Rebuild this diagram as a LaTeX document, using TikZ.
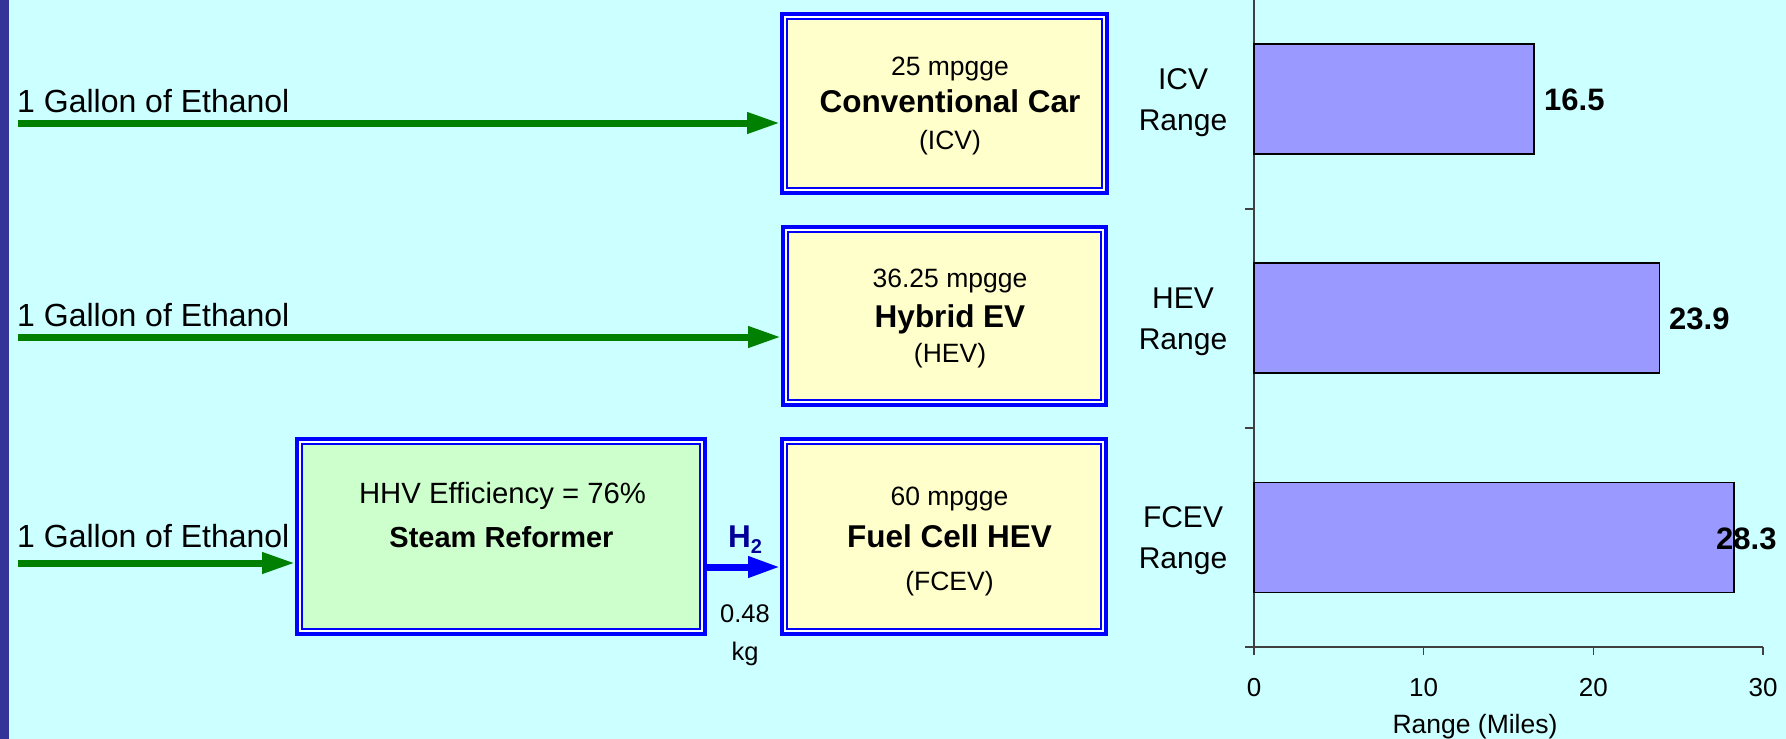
\documentclass[tikz,border=0pt]{standalone}
\usepackage{fontspec}
\setmainfont{Liberation Sans}
\usetikzlibrary{arrows.meta,calc}
\definecolor{bgcyan}{HTML}{CCFFFF}
\definecolor{navybar}{HTML}{333399}
\definecolor{boxblue}{HTML}{0000FF}
\definecolor{boxyellow}{HTML}{FFFFCC}
\definecolor{boxgreen}{HTML}{CCFFCC}
\definecolor{arrowgreen}{HTML}{008000}
\definecolor{barblue}{HTML}{9999FF}
\definecolor{htwo}{HTML}{000099}
\definecolor{axisgray}{HTML}{404040}
\newcommand\fsz[1]{\fontsize{#1}{#1}\selectfont}
\begin{document}
\begin{tikzpicture}[x=1pt,y=-1pt,
  dbox/.style={rectangle, draw=boxblue, line width=4pt, fill=white, inner sep=0pt,
    path picture={\draw[boxblue,line width=2pt,fill=#1]
      ($(path picture bounding box.north west)+(5pt,-5pt)$) rectangle
      ($(path picture bounding box.south east)+(-5pt,5pt)$);}},
  txt/.style={inner sep=0pt, anchor=base},
  ltxt/.style={inner sep=0pt, anchor=base west},
  garrow/.style={draw=arrowgreen, line width=7pt, -{Triangle[length=33pt,width=20pt]}},
  barrow/.style={draw=boxblue, line width=7pt, -{Triangle[length=32pt,width=20pt]}},
  axisline/.style={draw=axisgray, line width=1.3pt},
  hbar/.style={rectangle, draw=black, line width=1.6pt, fill=barblue, inner sep=0pt, outer sep=0pt, anchor=west, minimum height=110pt}
]
\fill[bgcyan] (0,0) rectangle (1786,739);
\useasboundingbox (0,0) rectangle (1786,739);
\fill[navybar] (0,0) rectangle (9,739);

% boxes
\node[dbox=boxyellow, minimum width=325pt, minimum height=179pt] (icv) at (944.5,103.5) {};
\node[dbox=boxyellow, minimum width=323pt, minimum height=178pt] (hev) at (944.5,316) {};
\node[dbox=boxyellow, minimum width=324pt, minimum height=195pt] (fcev) at (944,536.5) {};
\node[dbox=boxgreen, minimum width=408pt, minimum height=195pt] (ref) at (501,536.5) {};

% box texts
\node[txt] (icvA) at (950,75) {\fsz{26.5}25 mpgge};
\node[txt] (icvB) at (950,112) {\fsz{31.5}\bfseries Conventional Car};
\node[txt] (icvC) at (950,149) {\fsz{26.5}(ICV)};
\node[txt] (hevA) at (950,287) {\fsz{26.5}36.25 mpgge};
\node[txt] (hevB) at (950,327) {\fsz{31.5}\bfseries Hybrid EV};
\node[txt] (hevC) at (950,362) {\fsz{26.5}(HEV)};
\node[txt] (fcevA) at (949.5,505) {\fsz{26.5}60 mpgge};
\node[txt] (fcevB) at (949.5,547) {\fsz{31.5}\bfseries Fuel Cell HEV};
\node[txt] (fcevC) at (949.5,590) {\fsz{26.5}(FCEV)};
\node[txt] (refA) at (502.5,503) {\fsz{29.3}HHV Efficiency = 76\%};
\node[txt] (refB) at (501.5,547) {\fsz{29}\bfseries Steam Reformer};

% left inputs
\node[ltxt] (in1) at (17,112) {\fsz{32}1 Gallon of Ethanol};
\node[ltxt] (in2) at (17,326) {\fsz{32}1 Gallon of Ethanol};
\node[ltxt] (in3) at (17,547) {\fsz{32}1 Gallon of Ethanol};
\coordinate (g1) at (18,123);
\coordinate (g2) at (18,337);
\coordinate (g3) at (18,563);
\draw[garrow] (g1) -- (g1 -| icv.west);
\draw[garrow] (g2) -- (g2 -| hev.west);
\draw[garrow] (g3) -- (g3 -| ref.west);

% hydrogen
\path (ref.east) ++(0,30.5) coordinate (h2s);
\draw[barrow] (h2s) -- (h2s -| fcev.west);
\node[ltxt, text=htwo] (h2) at (728,547) {\fsz{31.5}\bfseries H\raisebox{-6pt}{\fsz{20}2}};
\node[txt] (kgA) at (745,622) {\fsz{25.5}0.48};
\node[txt] (kgB) at (745,660) {\fsz{25.5}kg};

% chart
\draw[axisline] (1254,-5) -- (1254,655);
\draw[axisline] (1245,647) -- (1763,647);
\foreach \v in {0,10,20,30} {
  \draw[axisline] ({1254+16.967*\v},647) -- ({1254+16.967*\v},655);
  \node[txt] (tk\v) at ({1254+16.967*\v},696) {\fsz{26}\v};
}
\draw[axisline] (1245,209) -- (1254,209);
\draw[axisline] (1245,428) -- (1254,428);
\node[txt] (xlab) at (1475,733) {\fsz{26.5}Range (Miles)};

\node[hbar, minimum width=279.9pt] (bicv) at (1254,99) {};
\node[hbar, minimum width=405.5pt] (bhev) at (1254,318) {};
\node[hbar, minimum width=480.2pt] (bfcev) at (1254,537.5) {};
\node[ltxt] (vicv) at (1544,110) {\fsz{31}\bfseries 16.5};
\node[ltxt] (vhev) at (1669,329) {\fsz{31}\bfseries 23.9};
\node[ltxt] (vfcev) at (1716,549.5) {\fsz{31}\bfseries 28.3};

\node[txt] (cicvA) at (1183,89) {\fsz{30}ICV};
\node[txt] (cicvB) at (1183,130) {\fsz{30}Range};
\node[txt] (chevA) at (1183,308) {\fsz{30}HEV};
\node[txt] (chevB) at (1183,349) {\fsz{30}Range};
\node[txt] (cfcevA) at (1183,527.5) {\fsz{30}FCEV};
\node[txt] (cfcevB) at (1183,568.5) {\fsz{30}Range};
\end{tikzpicture}
\end{document}
